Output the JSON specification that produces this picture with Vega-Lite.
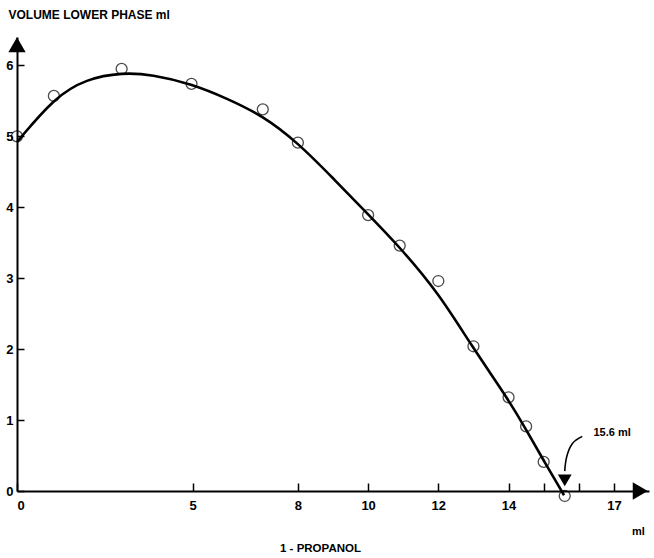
{
  "$schema": "https://vega.github.io/schema/vega-lite/v6.json",
  "autosize": "none",
  "width": 632,
  "height": 454,
  "padding": {"left": 17, "top": 37, "right": 5, "bottom": 67},
  "background": "white",
  "config": {
    "view": {"stroke": null},
    "font": "Liberation Sans",
    "axis": {
      "grid": false,
      "domainColor": "black",
      "domainWidth": 2,
      "tickColor": "black",
      "tickWidth": 1.5,
      "labelColor": "black",
      "labelFont": "Liberation Sans",
      "labelFontWeight": "bold",
      "labelFontSize": 13,
      "titleFont": "Liberation Sans",
      "titleFontWeight": "bold",
      "titleColor": "black"
    }
  },
  "datasets": {
    "curve": [
      {"x": 0, "y": 4.92},
      {"x": 1.07, "y": 5.55},
      {"x": 1.97, "y": 5.81},
      {"x": 3.01, "y": 5.9},
      {"x": 3.84, "y": 5.87},
      {"x": 4.97, "y": 5.74},
      {"x": 6.0, "y": 5.53},
      {"x": 7.0, "y": 5.29},
      {"x": 8.0, "y": 4.91},
      {"x": 9.0, "y": 4.41},
      {"x": 10.0, "y": 3.9},
      {"x": 10.88, "y": 3.45},
      {"x": 12.01, "y": 2.79},
      {"x": 12.94, "y": 2.05},
      {"x": 13.97, "y": 1.31},
      {"x": 14.46, "y": 0.9},
      {"x": 15.0, "y": 0.43},
      {"x": 15.58, "y": -0.06}
    ],
    "points": [
      {"x": 0, "y": 5.0},
      {"x": 1.05, "y": 5.57},
      {"x": 2.98, "y": 5.95},
      {"x": 4.97, "y": 5.74},
      {"x": 7.0, "y": 5.38},
      {"x": 8.0, "y": 4.91},
      {"x": 10.0, "y": 3.89},
      {"x": 10.9, "y": 3.46},
      {"x": 12.0, "y": 2.96},
      {"x": 13.0, "y": 2.04},
      {"x": 14.0, "y": 1.32},
      {"x": 14.5, "y": 0.91},
      {"x": 15.0, "y": 0.41},
      {"x": 15.6, "y": -0.07}
    ],
    "arrow": [
      {"x": 16.1, "y": 0.77, "o": 1},
      {"x": 15.82, "y": 0.67, "o": 2},
      {"x": 15.65, "y": 0.47, "o": 3},
      {"x": 15.6, "y": 0.28, "o": 4}
    ],
    "heads": [
      {"x": 0, "y": 6.29, "shape": "triangle-up", "s": 300},
      {"x": 17.75, "y": 0, "shape": "triangle-right", "s": 300},
      {"x": 15.6, "y": 0.15, "shape": "triangle-down", "s": 190}
    ],
    "labels": [
      {"x": 16.95, "y": 0.82, "t": "15.6 ml"},
      {"x": 17.7, "y": -0.58, "t": "ml"}
    ]
  },
  "layer": [
    {
      "data": {"name": "curve"},
      "mark": {"type": "line", "interpolate": "basis", "color": "black", "strokeWidth": 2.6, "clip": false},
      "encoding": {
        "x": {
          "field": "x", "type": "quantitative",
          "scale": {"domain": [0, 18], "nice": false, "zero": false},
          "axis": {
            "values": [0, 5, 8, 10, 12, 14, 15, 16, 17],
            "labelExpr": "datum.value == 15 || datum.value == 16 ? '' : datum.label",
            "tickSize": -8,
            "labelPadding": 16,
            "title": "1 - PROPANOL",
            "titleFontSize": 11.5,
            "titleX": 303,
            "titleY": 57,
            "titleBaseline": "middle"
          }
        },
        "y": {
          "field": "y", "type": "quantitative",
          "scale": {"domain": [0, 6.4], "nice": false, "zero": false},
          "axis": {
            "values": [0, 1, 2, 3, 4, 5, 6],
            "format": "d",
            "tickSize": -7,
            "labelPadding": 11,
            "title": "VOLUME LOWER PHASE ml",
            "titleFontSize": 12,
            "titleAngle": 0,
            "titleAlign": "left",
            "titleBaseline": "middle",
            "titleX": -9,
            "titleY": -23
          }
        }
      }
    },
    {
      "data": {"name": "points"},
      "mark": {"type": "point", "shape": "circle", "filled": false, "color": "black", "strokeWidth": 1.3, "size": 120, "clip": false},
      "encoding": {
        "x": {"field": "x", "type": "quantitative"},
        "y": {"field": "y", "type": "quantitative"}
      }
    },
    {
      "data": {"name": "arrow"},
      "mark": {"type": "line", "interpolate": "natural", "color": "black", "strokeWidth": 1.6, "clip": false},
      "encoding": {
        "x": {"field": "x", "type": "quantitative"},
        "y": {"field": "y", "type": "quantitative"},
        "order": {"field": "o", "type": "quantitative"}
      }
    },
    {
      "data": {"name": "heads"},
      "mark": {"type": "point", "filled": true, "color": "black", "opacity": 1, "clip": false},
      "encoding": {
        "x": {"field": "x", "type": "quantitative"},
        "y": {"field": "y", "type": "quantitative"},
        "shape": {"field": "shape", "type": "nominal", "scale": null, "legend": null},
        "size": {"field": "s", "type": "quantitative", "scale": null, "legend": null}
      }
    },
    {
      "data": {"name": "labels"},
      "mark": {"type": "text", "font": "Liberation Sans", "fontWeight": "bold", "fontSize": 11, "color": "black", "clip": false},
      "encoding": {
        "x": {"field": "x", "type": "quantitative"},
        "y": {"field": "y", "type": "quantitative"},
        "text": {"field": "t"}
      }
    }
  ]
}
